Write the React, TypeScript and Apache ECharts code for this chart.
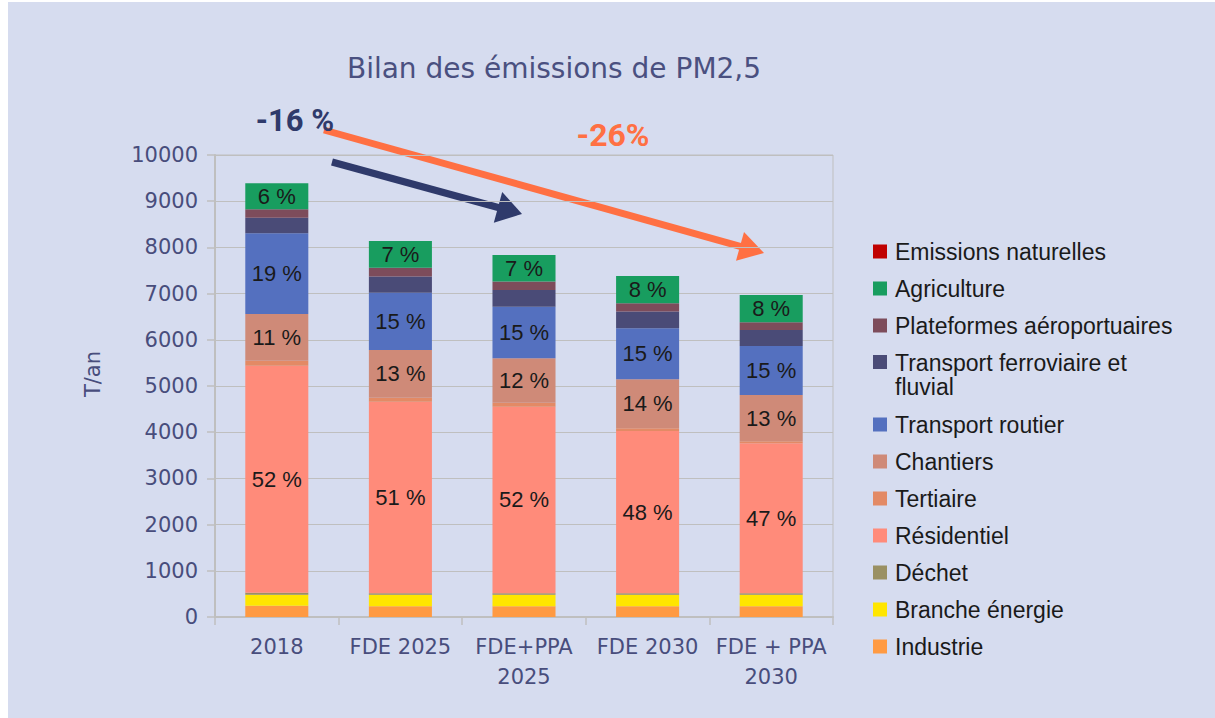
import React, { useEffect, useRef } from 'react';
import * as echarts from 'echarts';

const categories = ['2018', 'FDE 2025', 'FDE+PPA 2025', 'FDE 2030', 'FDE + PPA 2030'];

// Values in T/an, bottom to top of the stack
const industrie = [245, 230, 230, 230, 230];
const brancheEnergie = [235, 250, 250, 250, 250];
const dechet = [45, 33, 33, 33, 33];
const residentiel = [4915, 4148, 4040, 3514, 3247];
const tertiaire = [108, 87, 87, 58, 45];
const chantiers = [1011, 1033, 961, 1061, 1000];
const transportRoutier = [1747, 1240, 1117, 1104, 1061];
const transportFerroviaire = [338, 347, 362, 360, 347];
const plateformes = [182, 194, 180, 182, 166];
const agriculture = [563, 578, 577, 591, 591];
const emissionsNaturelles = [0, 0, 0, 0, 0];

// Percent labels shown in the bars
const residentielPct = [52, 51, 52, 48, 47];
const chantiersPct = [11, 13, 12, 14, 13];
const routierPct = [19, 15, 15, 15, 15];
const agriculturePct = [6, 7, 7, 8, 8];

const yMin = 0;
const yMax = 10000;
const yInterval = 1000;

const FERRO = 'Transport ferroviaire et fluvial';
const FERRO_COLOR = '#4A4B77';

const legendOrder = [
  'Emissions naturelles',
  'Agriculture',
  'Plateformes aéroportuaires',
  FERRO,
  'Transport routier',
  'Chantiers',
  'Tertiaire',
  'Résidentiel',
  'Déchet',
  'Branche énergie',
  'Industrie',
];

export default function App() {
  const ref = useRef<HTMLDivElement>(null);

  useEffect(() => {
    const chart = echarts.init(ref.current!, null, { renderer: 'svg' });

    const labelStyle = {
      show: true,
      position: 'inside',
      color: '#1a1a1a',
      fontSize: 22,
      fontFamily: 'Liberation Sans, Arial, sans-serif',
    };

    const mk = (name: string, data: number[], color: string, pct?: number[]) => ({
      name,
      type: 'bar',
      stack: 'total',
      data,
      barWidth: '51%',
      itemStyle: { color },
      emphasis: { disabled: true },
      label: pct
        ? { ...labelStyle, formatter: (p: any) => `${pct[p.dataIndex]} %` }
        : { show: false },
    });

    const axisColor = '#BFBFBF';
    const textColor = '#484D7C';

    chart.setOption({
      animation: false,
      grid: {
        left: 207,
        top: 153,
        width: 618,
        height: 462,
        show: true,
        borderColor: axisColor,
        borderWidth: 1,
        backgroundColor: 'transparent',
      },
      legend: {
        orient: 'vertical',
        left: 865,
        top: 238,
        padding: 0,
        itemWidth: 14,
        itemHeight: 14,
        itemGap: 14,
        icon: 'rect',
        selectedMode: false,
        textStyle: {
          fontSize: 23,
          lineHeight: 23,
          color: '#1a1a1a',
          fontFamily: 'Liberation Sans, Arial, sans-serif',
          padding: [0, 0, 0, 3],
        },
        formatter: (name: string) => (name === FERRO ? 'Transport ferroviaire et\nfluvial' : name),
        data: legendOrder.map((n) =>
          n === FERRO
            ? { name: n, itemStyle: { opacity: 0 }, textStyle: { lineHeight: 24 } }
            : { name: n }
        ),
      },
      xAxis: {
        type: 'category',
        data: categories,
        axisLine: { show: true, lineStyle: { color: axisColor, width: 2 } },
        axisTick: { show: true, length: 8, interval: 0, lineStyle: { color: axisColor, width: 1.5 } },
        axisLabel: {
          interval: 0,
          color: textColor,
          fontSize: 21,
          lineHeight: 30,
          margin: 15,
          fontFamily: 'DejaVu Sans, sans-serif',
          formatter: (v: string) => v.replace('PPA ', 'PPA\n'),
        },
        splitLine: { show: false },
      },
      yAxis: {
        type: 'value',
        min: yMin,
        max: yMax,
        interval: yInterval,
        axisLine: { show: true, lineStyle: { color: axisColor, width: 2 } },
        axisTick: { show: true, length: 8, lineStyle: { color: axisColor, width: 1.5 } },
        axisLabel: {
          color: textColor,
          fontSize: 21,
          margin: 17,
          fontFamily: 'DejaVu Sans, sans-serif',
          formatter: (v: number) => String(v),
        },
        splitLine: { show: true, lineStyle: { color: axisColor, width: 1 } },
      },
      series: [
        mk('Industrie', industrie, '#FF9A42'),
        mk('Branche énergie', brancheEnergie, '#FFE600'),
        mk('Déchet', dechet, '#9A9063'),
        mk('Résidentiel', residentiel, '#FF8B7A', residentielPct),
        mk('Tertiaire', tertiaire, '#E38A65'),
        mk('Chantiers', chantiers, '#CF8A78', chantiersPct),
        mk('Transport routier', transportRoutier, '#5470BF', routierPct),
        mk(FERRO, transportFerroviaire, FERRO_COLOR),
        mk('Plateformes aéroportuaires', plateformes, '#7D4C5B'),
        mk('Agriculture', agriculture, '#189D5F', agriculturePct),
        mk('Emissions naturelles', emissionsNaturelles, '#C00000'),
      ],
      graphic: [
        {
          type: 'text',
          x: 546,
          y: 66,
          style: {
            text: 'Bilan des émissions de PM2,5',
            fontSize: 28,
            fontFamily: 'DejaVu Sans, sans-serif',
            fill: '#4A5080',
            align: 'center',
            verticalAlign: 'middle',
            textAlign: 'center',
            textVerticalAlign: 'middle',
          },
        },
        {
          type: 'text',
          x: 85,
          y: 372,
          rotation: Math.PI / 2,
          style: {
            text: 'T/an',
            fontSize: 21,
            fontFamily: 'DejaVu Sans, sans-serif',
            fill: textColor,
            align: 'center',
            verticalAlign: 'middle',
            textAlign: 'center',
            textVerticalAlign: 'middle',
          },
        },
        // legend marker of the two-line entry, aligned with its first line
        {
          type: 'rect',
          shape: { x: 865, y: 353, width: 14, height: 14 },
          style: { fill: FERRO_COLOR },
        },
        // orange arrow
        {
          type: 'line',
          shape: { x1: 316, y1: 128, x2: 734, y2: 244.8 },
          style: { stroke: '#FF7043', lineWidth: 7 },
        },
        {
          type: 'polygon',
          shape: { points: [[756, 251], [728, 258.7], [736, 229.9]] },
          style: { fill: '#FF7043' },
        },
        // navy arrow
        {
          type: 'line',
          shape: { x1: 324, y1: 160, x2: 492, y2: 206 },
          style: { stroke: '#2F3A6B', lineWidth: 7 },
        },
        {
          type: 'polygon',
          shape: { points: [[514, 212], [485.8, 220.8], [494.2, 190]] },
          style: { fill: '#2F3A6B' },
        },
        {
          type: 'text',
          x: 287,
          y: 118,
          style: {
            text: '-16 %',
            fontSize: 31,
            fontWeight: 'bold',
            fontFamily: 'Roboto, sans-serif',
            fill: '#2F3A6B',
            align: 'center',
            verticalAlign: 'middle',
            textAlign: 'center',
            textVerticalAlign: 'middle',
          },
        },
        {
          type: 'text',
          x: 605,
          y: 133,
          style: {
            text: '-26%',
            fontSize: 32,
            fontWeight: 'bold',
            fontFamily: 'Roboto, sans-serif',
            fill: '#FF7043',
            align: 'center',
            verticalAlign: 'middle',
            textAlign: 'center',
            textVerticalAlign: 'middle',
          },
        },
      ],
    });

    return () => chart.dispose();
  }, []);

  return (
    <div
      style={{
        position: 'fixed',
        left: 8,
        top: 2,
        width: 1207,
        height: 716,
        background: '#D6DCEF',
      }}
    >
      <div ref={ref} style={{ width: 1207, height: 716 }} />
    </div>
  );
}
